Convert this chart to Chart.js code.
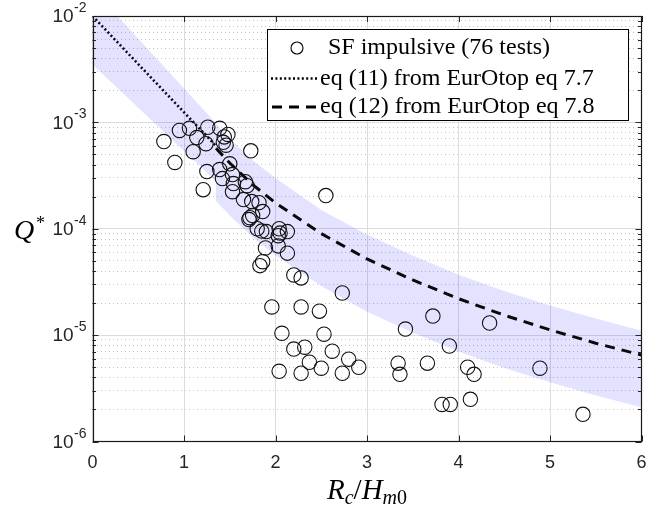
<!DOCTYPE html>
<html>
<head>
<meta charset="utf-8">
<script src="https://cdn.jsdelivr.net/npm/chart.js@4.4.0/dist/chart.umd.min.js"></script>
<style>
  html, body { margin: 0; padding: 0; background: #fff; }
</style>
</head>
<body>
<canvas id="grafico" width="646" height="509"></canvas>
<script>
// ensayos SF impulsive (Rc/Hm0, Q*)
const testsX = [0.78, 0.90, 0.95, 1.06, 1.10, 1.14, 1.24, 1.26, 1.39, 1.48, 1.43, 1.46, 1.73,
  1.25, 1.21, 1.39, 1.42, 1.53, 1.54, 1.53, 1.67, 1.69, 1.65, 1.74, 1.82, 1.86, 1.75, 1.71,
  1.80, 1.90, 2.04, 2.13, 2.03, 1.89, 2.03, 2.13, 1.86, 1.83, 2.20, 2.28, 2.55, 2.73, 1.96,
  2.28, 2.48, 2.07, 2.53, 2.20, 2.32, 2.37, 2.50, 2.62, 2.80, 2.91, 2.04, 2.28, 2.73, 3.42,
  3.72, 4.34, 3.90, 3.34, 3.36, 3.66, 4.10, 4.17, 4.89, 3.82, 3.91, 4.13, 5.36, 1.50, 1.44,
  1.85, 1.72, 2.05];
const testsQ = [6.6e-4, 4.2e-4, 8.4e-4, 8.8e-4, 5.3e-4, 7.2e-4, 6.3e-4, 9.0e-4, 8.8e-4, 7.7e-4, 6.5e-4, 6.1e-4, 5.4e-4,
  3.45e-4, 2.33e-4, 3.6e-4, 2.96e-4, 3.23e-4, 2.66e-4, 2.23e-4, 2.77e-4, 2.54e-4, 1.88e-4, 1.80e-4, 1.76e-4, 1.45e-4, 1.33e-4, 1.22e-4,
  1.0e-4, 9.4e-5, 1.0e-4, 9.4e-5, 8.6e-5, 6.6e-5, 6.9e-5, 5.9e-5, 4.9e-5, 4.5e-5, 3.68e-5, 3.45e-5, 2.05e-4, 2.49e-5, 1.84e-5,
  1.84e-5, 1.68e-5, 1.04e-5, 1.02e-5, 7.4e-6, 7.7e-6, 5.56e-6, 4.89e-6, 7.06e-6, 5.94e-6, 4.99e-6, 4.57e-6, 4.38e-6, 4.38e-6, 1.14e-5,
  1.51e-5, 1.30e-5, 7.9e-6, 5.45e-6, 4.28e-6, 5.45e-6, 4.99e-6, 4.28e-6, 4.89e-6, 2.23e-6, 2.23e-6, 2.49e-6, 1.80e-6, 4.08e-4, 7.3e-4,
  9.5e-5, 1.27e-4, 9.1e-5];

// eq (11) - EurOtop 7.7
const eq11X = [0, 1.35];
const eq11Q = [1.0e-2, 6.0e-4];
const band11Upper = [1.8e-2, 9.8e-4];
const band11Lower = [3.5e-3, 2.8e-4];

// eq (12) - EurOtop 7.8
const eq12X = [1.35, 1.5, 1.75, 2, 2.5, 3, 3.5, 4, 4.5, 5, 5.5, 6];
const eq12Q = [5.7e-4, 4.15e-4, 2.6e-4, 1.75e-4, 9.0e-5, 5.2e-5, 3.3e-5, 2.2e-5, 1.54e-5, 1.12e-5, 8.4e-6, 6.5e-6];
const band12Upper = [9.7e-4, 7.0e-4, 4.4e-4, 3.0e-4, 1.5e-4, 8.8e-5, 5.6e-5, 3.7e-5, 2.6e-5, 1.9e-5, 1.43e-5, 1.1e-5];
const band12Lower = [1.82e-4, 1.33e-4, 8.3e-5, 5.6e-5, 2.9e-5, 1.66e-5, 1.06e-5, 7.0e-6, 4.9e-6, 3.6e-6, 2.7e-6, 2.1e-6];

// ejes
const xTicks = [0, 1, 2, 3, 4, 5, 6];
const yDecades = [-6, -5, -4, -3, -2];

const legendLabels = ['SF impulsive (76 tests)', 'eq (11) from EurOtop eq 7.7', 'eq (12) from EurOtop eq 7.8'];

const puntos = (xs, ys) => xs.map((x, i) => ({ x: x, y: ys[i] }));

// ticks del eje log: 1..9 x 10^n
const yTickValues = [];
yDecades.forEach((e, i) => {
  if (i === yDecades.length - 1) { yTickValues.push(Math.pow(10, e)); return; }
  for (let m = 1; m <= 9; m++) yTickValues.push(m * Math.pow(10, e));
});
const esMayor = v => Math.abs(Math.log10(v) - Math.round(Math.log10(v))) < 1e-9;

const bandColor = 'rgba(40,40,255,0.13)';
const dotDash = [2, 2.4];
const dashDash = [10, 7];
const serif = '"Liberation Serif", "DejaVu Serif", serif';
const sans = '"Liberation Sans", Arial, sans-serif';

const marcoPlugin = {
  id: 'marco',
  afterDraw(chart) {
    const { ctx, chartArea: a, scales: { x, y } } = chart;
    ctx.save();
    const linea = (x1, y1, x2, y2) => { ctx.beginPath(); ctx.moveTo(x1, y1); ctx.lineTo(x2, y2); ctx.stroke(); };

    // ticks hacia dentro
    ctx.strokeStyle = '#262626';
    ctx.lineWidth = 1;
    xTicks.forEach(v => {
      const px = Math.round(x.getPixelForValue(v)) + 0.5;
      linea(px, a.bottom, px, a.bottom - 6);
      linea(px, a.top, px, a.top + 6);
    });
    yTickValues.forEach(v => {
      const py = Math.round(y.getPixelForValue(v)) + 0.5;
      const len = esMayor(v) ? 6 : 3.5;
      linea(a.left, py, a.left + len, py);
      linea(a.right, py, a.right - len, py);
    });

    // caja
    ctx.lineWidth = 1.2;
    ctx.strokeStyle = '#1a1a1a';
    ctx.strokeRect(Math.round(a.left) + 0.5, Math.round(a.top) + 0.5, Math.round(a.width) - 1, Math.round(a.height) - 1);

    // etiquetas 10^n
    ctx.fillStyle = '#262626';
    yDecades.forEach(e => {
      const py = y.getPixelForValue(Math.pow(10, e));
      ctx.font = '14px ' + sans;
      const sup = String(e);
      const wSup = ctx.measureText(sup).width;
      const right = a.left - 6;
      ctx.textAlign = 'left';
      ctx.textBaseline = 'alphabetic';
      ctx.fillText(sup, right - wSup, py - 4);
      ctx.font = '19px ' + sans;
      ctx.textAlign = 'right';
      ctx.textBaseline = 'middle';
      ctx.fillText('10', right - wSup - 0.5, py + 1);
    });

    // titulos de ejes
    ctx.fillStyle = '#000';
    ctx.textBaseline = 'alphabetic';
    ctx.textAlign = 'left';
    ctx.font = 'italic 28px ' + serif;
    ctx.fillText('Q', 14, 239);
    ctx.font = '18px ' + serif;
    ctx.fillText('*', 36, 229);

    const partes = [
      { t: 'R', f: 'italic 29px', dy: 0 },
      { t: 'c', f: 'italic 20px', dy: 5 },
      { t: '/', f: '29px', dy: 0 },
      { t: 'H', f: 'italic 29px', dy: 0 },
      { t: 'm', f: 'italic 20px', dy: 5 },
      { t: '0', f: '20px', dy: 5 }
    ];
    let total = 0;
    partes.forEach(p => { ctx.font = p.f + ' ' + serif; p.w = ctx.measureText(p.t).width; total += p.w; });
    let cx = (a.left + a.right) / 2 - total / 2;
    partes.forEach(p => { ctx.font = p.f + ' ' + serif; ctx.fillText(p.t, cx, 499 + p.dy); cx += p.w; });

    // leyenda
    const bx = 267.5, by = 29.5, bw = 361, bh = 91;
    ctx.fillStyle = '#fff';
    ctx.fillRect(bx, by, bw, bh);
    ctx.strokeStyle = '#000';
    ctx.lineWidth = 1;
    ctx.strokeRect(bx, by, bw, bh);
    const filas = [48, 78.5, 107];
    ctx.fillStyle = '#000';
    ctx.font = '24px ' + serif;
    ctx.textBaseline = 'middle';
    ctx.fillText(legendLabels[0], 328, filas[0]);
    ctx.fillText(legendLabels[1], 320, filas[1]);
    ctx.fillText(legendLabels[2], 320, filas[2]);
    ctx.lineWidth = 1.1;
    ctx.beginPath(); ctx.arc(297, filas[0], 6, 0, Math.PI * 2); ctx.stroke();
    ctx.lineWidth = 2.6;
    ctx.setLineDash(dotDash);
    linea(271, filas[1], 318, filas[1]);
    ctx.lineWidth = 3;
    ctx.setLineDash(dashDash);
    linea(272, filas[2], 318, filas[2]);
    ctx.restore();
  }
};

const ctx = document.getElementById('grafico').getContext('2d');
new Chart(ctx, {
  type: 'scatter',
  data: {
    datasets: [
      { label: 'band11 up', data: puntos(eq11X, band11Upper), showLine: true, pointRadius: 0, borderWidth: 0,
        backgroundColor: bandColor, fill: '+1', order: 3 },
      { label: 'band11 low', data: puntos(eq11X, band11Lower), showLine: true, pointRadius: 0, borderWidth: 0,
        fill: false, order: 3 },
      { label: 'band12 up', data: puntos(eq12X, band12Upper), showLine: true, pointRadius: 0, borderWidth: 0,
        backgroundColor: bandColor, fill: '+1', order: 3 },
      { label: 'band12 low', data: puntos(eq12X, band12Lower), showLine: true, pointRadius: 0, borderWidth: 0,
        fill: false, order: 3 },
      { label: legendLabels[1], data: puntos(eq11X, eq11Q), showLine: true, pointRadius: 0,
        borderColor: '#0a0a14', borderWidth: 2.6, borderDash: dotDash, fill: false, order: 2 },
      { label: legendLabels[2], data: puntos(eq12X, eq12Q), showLine: true, pointRadius: 0,
        borderColor: '#0a0a0a', borderWidth: 3, borderDash: dashDash, fill: false, order: 2 },
      { label: legendLabels[0], data: puntos(testsX, testsQ), showLine: false,
        pointRadius: 7.2, pointBorderWidth: 1.1, pointBorderColor: '#111', pointBackgroundColor: 'rgba(0,0,0,0)', order: 1 }
    ]
  },
  options: {
    responsive: false,
    animation: false,
    layout: { autoPadding: false, padding: { top: 16, right: 4.5, left: 0, bottom: 0 } },
    plugins: { legend: { display: false }, tooltip: { enabled: false } },
    scales: {
      x: {
        type: 'linear', min: 0, max: 6,
        afterBuildTicks: s => { s.ticks = xTicks.map(v => ({ value: v })); },
        ticks: { color: '#262626', font: { family: sans, size: 18 }, padding: 11, maxRotation: 0 },
        grid: { color: '#dcdcdc', lineWidth: 1, drawTicks: false },
        border: { display: false },
        afterFit: s => { s.height = 67.5; s.paddingLeft = 0; s.paddingRight = 0; }
      },
      y: {
        type: 'logarithmic', min: 1e-6, max: 1e-2,
        afterBuildTicks: s => { s.ticks = yTickValues.map(v => ({ value: v })); },
        ticks: { display: false },
        grid: {
          drawTicks: false,
          lineWidth: 1,
          color: c => (c.tick && !esMayor(c.tick.value)) ? '#c4c4c4' : '#dcdcdc'
        },
        border: {
          display: false,
          dash: c => (c.tick && !esMayor(c.tick.value)) ? [1, 3] : []
        },
        afterFit: s => { s.width = 92.5; s.paddingTop = 0; s.paddingBottom = 0; }
      }
    }
  },
  plugins: [marcoPlugin]
});
</script>
</body>
</html>
